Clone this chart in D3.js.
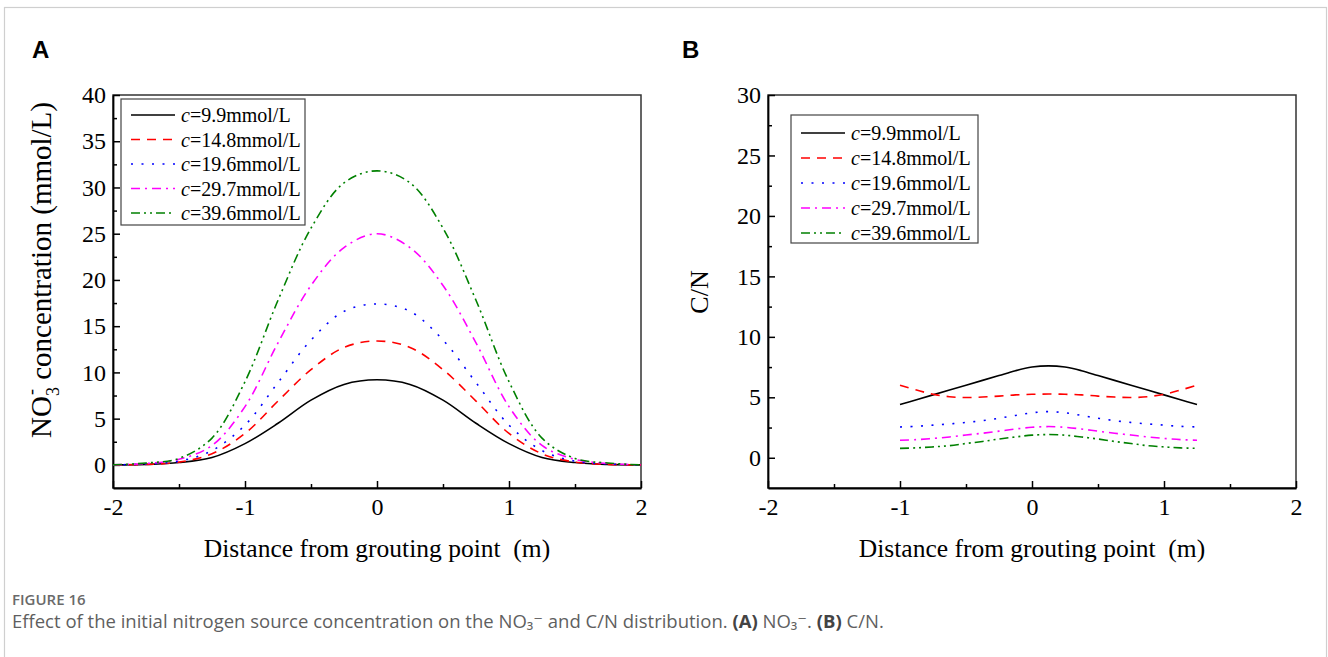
<!DOCTYPE html>
<html>
<head>
<meta charset="utf-8">
<script src="https://cdn.jsdelivr.net/npm/d3@7"></script>
<style>
  body { margin: 0; background: #fff; }
  svg text { white-space: pre; }
</style>
</head>
<body>
<div id="chart"></div>
<script>
//constants
const width = 1328,
  height = 657;

// panel A: NO3- concentration vs distance
const distA = [-2, -1.75, -1.5, -1.25, -1, -0.75, -0.5, -0.25, 0, 0.25, 0.5, 0.75, 1, 1.25, 1.5, 1.75, 2];
const no3_99 = [0, 0.05, 0.25, 0.8, 2.3, 4.5, 7.0, 8.7, 9.2, 8.7, 7.0, 4.5, 2.3, 0.8, 0.25, 0.05, 0];
const no3_148 = [0, 0.05, 0.3, 1.2, 3.4, 6.9, 10.3, 12.7, 13.4, 12.7, 10.3, 6.9, 3.4, 1.2, 0.3, 0.05, 0];
const no3_196 = [0, 0.1, 0.4, 1.55, 4.3, 8.9, 13.5, 16.6, 17.4, 16.6, 13.5, 8.9, 4.3, 1.55, 0.4, 0.1, 0];
const no3_297 = [0, 0.15, 0.6, 2.1, 6.3, 13.2, 19.4, 23.5, 25.0, 23.5, 19.4, 13.2, 6.3, 2.1, 0.6, 0.15, 0];
const no3_396 = [0, 0.2, 0.7, 2.9, 9.0, 17.8, 25.6, 30.5, 31.8, 30.5, 25.6, 17.8, 9.0, 2.9, 0.7, 0.2, 0];

// panel B: C/N vs distance
const distB = [-1, -0.875, -0.75, -0.625, -0.5, -0.375, -0.25, -0.125, 0, 0.125, 0.25, 0.375, 0.5, 0.625, 0.75, 0.875, 1, 1.125, 1.25];
const cn_99 = [4.4, 4.8, 5.2, 5.6, 6.0, 6.4, 6.8, 7.2, 7.5, 7.6, 7.5, 7.2, 6.8, 6.4, 6.0, 5.6, 5.2, 4.8, 4.4];
const cn_148 = [6.0, 5.6, 5.25, 5.05, 4.98, 5.02, 5.1, 5.2, 5.25, 5.27, 5.25, 5.2, 5.1, 5.02, 4.98, 5.05, 5.25, 5.6, 6.0];
const cn_196 = [2.55, 2.6, 2.7, 2.8, 2.92, 3.07, 3.27, 3.5, 3.72, 3.82, 3.72, 3.5, 3.27, 3.07, 2.92, 2.8, 2.7, 2.6, 2.55];
const cn_297 = [1.45, 1.5, 1.6, 1.72, 1.88, 2.03, 2.2, 2.38, 2.52, 2.58, 2.52, 2.38, 2.2, 2.03, 1.88, 1.72, 1.6, 1.5, 1.45];
const cn_396 = [0.78, 0.82, 0.9, 1.0, 1.18, 1.35, 1.55, 1.72, 1.87, 1.92, 1.87, 1.72, 1.55, 1.35, 1.18, 1.0, 0.9, 0.82, 0.78];

const concLabels = ["9.9", "14.8", "19.6", "29.7", "39.6"];
const xTicks = [-2, -1, 0, 1, 2];
const xMinor = [-1.5, -0.5, 0.5, 1.5];
const yTicksA = [0, 5, 10, 15, 20, 25, 30, 35, 40];
const yMinorA = [2.5, 7.5, 12.5, 17.5, 22.5, 27.5, 32.5, 37.5];
const yTicksB = [0, 5, 10, 15, 20, 25, 30];
const yMinorB = [2.5, 7.5, 12.5, 17.5, 22.5, 27.5];

// line styles (origin-ish)
const lineColors = ["#000000", "#ff0000", "#0000ff", "#ff00ff", "#008000"];
const lineDash = [null, "9,7", "2,8.5", "9,5,2,5", "9,4,2,4,2,4"];

const serif = "'Liberation Serif', 'Times New Roman', serif";

const svg = d3.select("#chart")
  .append("svg")
  .attr("width", width)
  .attr("height", height)
  .attr("viewBox", [0, 0, width, height]);

// card frame
svg.append("rect")
  .attr("x", 4.5).attr("y", 7.5)
  .attr("width", 1322).attr("height", 700)
  .attr("fill", "none")
  .attr("stroke", "#cfcfcf")
  .attr("stroke-width", 1.2);

function drawPanel(p) {
  const x = d3.scaleLinear().domain([-2, 2]).range([p.left, p.right]);
  const y = d3.scaleLinear().domain(p.yDomain).range([488, 95]);
  const g = svg.append("g");

  // frame (top + right)
  g.append("rect")
    .attr("x", p.left).attr("y", 95)
    .attr("width", p.right - p.left).attr("height", 488 - 95)
    .attr("fill", "none")
    .attr("stroke", "#333")
    .attr("stroke-width", 1.5);

  // minor ticks
  g.append("g")
    .attr("transform", "translate(0,488)")
    .call(d3.axisBottom(x).tickValues(xMinor).tickFormat("").tickSize(-4).tickSizeOuter(0))
    .call(a => a.select(".domain").remove());
  g.append("g")
    .attr("transform", `translate(${p.left},0)`)
    .call(d3.axisLeft(y).tickValues(p.yMinor).tickFormat("").tickSize(-4).tickSizeOuter(0))
    .call(a => a.select(".domain").remove());

  // major axes
  const xAxis = g.append("g")
    .attr("transform", "translate(0,488)")
    .call(d3.axisBottom(x).tickValues(xTicks).tickFormat(d => String(d))
      .tickSize(-7).tickSizeOuter(0).tickPadding(10));
  const yAxis = g.append("g")
    .attr("transform", `translate(${p.left},0)`)
    .call(d3.axisLeft(y).tickValues(p.yTicks).tickFormat(d => String(d))
      .tickSize(-7).tickSizeOuter(0).tickPadding(7));

  g.selectAll(".tick line").attr("stroke", "#000").attr("stroke-width", 1.5);
  [xAxis, yAxis].forEach(a => {
    a.select(".domain").attr("stroke", "#000").attr("stroke-width", 1.8);
    a.selectAll("text")
      .attr("fill", "#000")
      .style("font-family", serif)
      .style("font-size", "24px");
  });

  // curves
  const line = d3.line()
    .x((d, i) => x(p.dist[i]))
    .y(d => y(d))
    .curve(d3.curveCatmullRom.alpha(0.5));

  p.series.forEach((s, i) => {
    g.append("path")
      .datum(s)
      .attr("fill", "none")
      .attr("stroke", lineColors[i])
      .attr("stroke-width", 1.6)
      .attr("stroke-dasharray", lineDash[i])
      .attr("d", line);
  });

  // legend
  const lg = p.legend;
  g.append("rect")
    .attr("x", lg.x).attr("y", lg.y)
    .attr("width", lg.w).attr("height", lg.h)
    .attr("fill", "#fff")
    .attr("stroke", "#444")
    .attr("stroke-width", 1.2);

  concLabels.forEach((c, i) => {
    const cy = lg.y + lg.first + i * lg.gap;
    g.append("line")
      .attr("x1", lg.x + 10).attr("x2", lg.x + 54)
      .attr("y1", cy).attr("y2", cy)
      .attr("stroke", lineColors[i])
      .attr("stroke-width", 1.6)
      .attr("stroke-dasharray", lineDash[i]);
    const t = g.append("text")
      .attr("x", lg.x + 60)
      .attr("y", cy + 7)
      .style("font-family", serif)
      .style("font-size", "20px");
    t.append("tspan").style("font-style", "italic").text("c");
    t.append("tspan").text(`=${c}mmol/L`);
  });

  // x title
  g.append("text")
    .attr("x", (p.left + p.right) / 2)
    .attr("y", 557)
    .attr("text-anchor", "middle")
    .style("font-family", serif)
    .style("font-size", "25.5px")
    .text("Distance from grouting point  (m)");

  // panel letter
  svg.append("text")
    .attr("x", p.letterX)
    .attr("y", 58)
    .style("font-family", "'Liberation Sans', Arial, sans-serif")
    .style("font-weight", "bold")
    .style("font-size", "24px")
    .text(p.letter);

  return g;
}

const gA = drawPanel({
  left: 113, right: 641,
  yDomain: [-2.5, 40], yTicks: yTicksA, yMinor: yMinorA,
  dist: distA,
  series: [no3_99, no3_148, no3_196, no3_297, no3_396],
  legend: { x: 121, y: 99, w: 184, h: 126, first: 16, gap: 24.5 },
  letter: "A", letterX: 32
});

const gB = drawPanel({
  left: 768, right: 1296,
  yDomain: [-2.5, 30], yTicks: yTicksB, yMinor: yMinorB,
  dist: distB,
  series: [cn_99, cn_148, cn_196, cn_297, cn_396],
  legend: { x: 791, y: 115, w: 187, h: 128, first: 18, gap: 25 },
  letter: "B", letterX: 682
});

// y titles
const yTitleA = gA.append("text")
  .attr("transform", "translate(51,270) rotate(-90)")
  .attr("text-anchor", "middle")
  .style("font-family", serif)
  .style("font-size", "29px");
yTitleA.append("tspan").text("NO");
yTitleA.append("tspan").attr("dy", 8).style("font-size", "18px").text("3");
yTitleA.append("tspan").attr("dx", -8).attr("dy", -22).style("font-size", "18px").text("-");
yTitleA.append("tspan").attr("dx", 2).attr("dy", 14).text(" concentration (mmol/L)");

gB.append("text")
  .attr("transform", "translate(708,292) rotate(-90)")
  .attr("text-anchor", "middle")
  .style("font-family", serif)
  .style("font-size", "26px")
  .text("C/N");

// caption
svg.append("text")
  .attr("x", 12).attr("y", 605)
  .style("font-family", "'Open Sans', sans-serif")
  .style("font-size", "15px")
  .style("font-weight", "600")
  .attr("fill", "#6a6a6a")
  .text("FIGURE 16");

const cap = svg.append("text")
  .attr("x", 12).attr("y", 628)
  .style("font-family", "'Open Sans', 'DejaVu Sans', sans-serif")
  .style("font-size", "18.5px")
  .attr("fill", "#5f5f5f");
cap.append("tspan").text("Effect of the initial nitrogen source concentration on the NO₃⁻ and C/N distribution. ");
cap.append("tspan").style("font-weight", "bold").attr("fill", "#444").text("(A)");
cap.append("tspan").text(" NO₃⁻. ");
cap.append("tspan").style("font-weight", "bold").attr("fill", "#444").text("(B)");
cap.append("tspan").text(" C/N.");
</script>
</body>
</html>
